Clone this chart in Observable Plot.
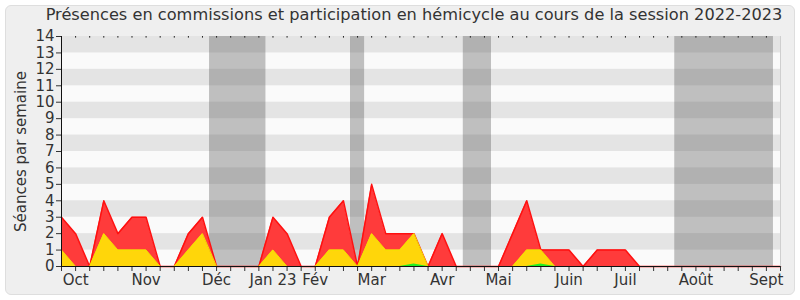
<!DOCTYPE html>
<html>
<head>
<meta charset="utf-8">
<script src="https://cdn.jsdelivr.net/npm/d3@7"></script>
<script src="https://cdn.jsdelivr.net/npm/@observablehq/plot@0.6"></script>
<style>
  html, body { margin: 0; padding: 0; background: #ffffff; }
  #wrap { position: relative; width: 800px; height: 300px; overflow: hidden; }
  #panel { position: absolute; left: 5px; top: 5px; width: 788px; height: 288px;
           background: #efefef; border: 1px solid #dedede; border-radius: 6px; }
  #title { position: absolute; left: 28px; width: 772px; top: 5px; text-align: center;
           font-family: "DejaVu Sans", sans-serif; font-size: 16.2px; color: #333; white-space: nowrap; }
  #chart { position: absolute; left: 0; top: 0; }
</style>
</head>
<body>
<div id="wrap">
  <div id="panel"></div>
  <div id="title">Présences en commissions et participation en hémicycle au cours de la session 2022-2023</div>
  <div id="chart"></div>
</div>
<script>
// Weeks of the session (index 0 = last week of September 2022)
const weeks = d3.range(0, 52);
// Présences en commission (red)
const commission = [3,2,0,4,2,3,3,0,0,2,3,0,0,0,0,3,2,0,0,3,4,0,5,2,2,2,0,2,0,0,0,0,2,4,1,1,1,0,1,1,1,0,0,0,0,0,0,0,0,0,0,0];
// Présences en hémicycle (yellow)
const hemicycle = [1,0,0,2,1,1,1,0,0,1,2,0,0,0,0,1,0,0,0,1,1,0,2,1,1,2,0,0,0,0,0,0,0,1,1,0,0,0,0,0,0,0,0,0,0,0,0,0,0,0,0,0];
// Interventions (green)
const interventions = [0,0,0,0,0,0,0,0,0,0,0,0,0,0,0,0,0,0,0,0,0,0,0,0,0,0.15,0,0,0,0,0,0,0,0,0.15,0,0,0,0,0,0,0,0,0,0,0,0,0,0,0,0,0];
// Parliamentary holidays (week index ranges)
const vacStart = [10.5, 20.5, 28.5, 43.5];
const vacEnd   = [14.5, 21.5, 30.5, 50.5];
// Month tick labels
const monthWeeks  = [1, 6, 11, 15, 18, 22, 27, 31, 36, 40, 45, 50];
const monthLabels = ["Oct", "Nov", "Déc", "Jan 23", "Fév", "Mar", "Avr", "Mai", "Juin", "Juil", "Août", "Sept"];
const yTicks = d3.range(0, 15);
const bandStarts = [1, 3, 5, 7, 9, 11, 13];

const rows = weeks.map((w, i) => ({week: w, red: commission[i], yellow: hemicycle[i], green: interventions[i]}));
const vac = vacStart.map((s, i) => ({x1: s, x2: vacEnd[i]}));
const labelOf = new Map(monthWeeks.map((w, i) => [w, monthLabels[i]]));

const chart = Plot.plot({
  width: 800,
  height: 300,
  marginLeft: 61,
  marginRight: 20,
  marginTop: 36,
  marginBottom: 34,
  style: {background: "transparent", fontFamily: "DejaVu Sans, sans-serif", color: "#333"},
  x: {domain: [0, 51]},
  y: {domain: [0, 14]},
  marks: [
    Plot.rect([0], {x1: 0, x2: 51, y1: 0, y2: 14, fill: "#fafafa"}),
    Plot.rect(bandStarts, {x1: 0, x2: 51, y1: d => d, y2: d => d + 1, fill: "#e4e4e4"}),
    Plot.rect(vac, {x1: "x1", x2: "x2", y1: 0, y2: 14, fill: "#555", fillOpacity: 0.36}),
    Plot.areaY(rows, {x: "week", y: "red", fill: "#ff3b3b"}),
    Plot.lineY(rows, {x: "week", y: "red", stroke: "#ff1010", strokeWidth: 1.5}),
    Plot.areaY(rows, {x: "week", y: "yellow", fill: "#ffd60a"}),
    Plot.lineY(rows, {x: "week", y: "yellow", stroke: "#f2e300", strokeWidth: 1}),
    Plot.areaY(rows, {x: "week", y: "green", fill: "#22ee22"}),
    Plot.ruleX(weeks, {x: d => d, y1: 14, y2: 13.9, stroke: "#222", strokeWidth: 1}),
    Plot.ruleX([51], {y1: 0, y2: 14, stroke: "#cfcfcf"}),
    Plot.axisY({ticks: yTicks, tickSize: 5, fontSize: 15, tickPadding: 2,
      label: "Séances par semaine", labelAnchor: "center", labelArrow: "none", labelOffset: 46}),
    Plot.axisX({ticks: weeks, tickSize: 5, fontSize: 15, tickPadding: 3,
      tickFormat: d => labelOf.get(d) ?? "", label: null}),
    Plot.ruleY([0], {stroke: "#111"}),
    Plot.ruleX([0], {stroke: "#111"})
  ]
});
document.getElementById("chart").appendChild(chart);
</script>
</body>
</html>
